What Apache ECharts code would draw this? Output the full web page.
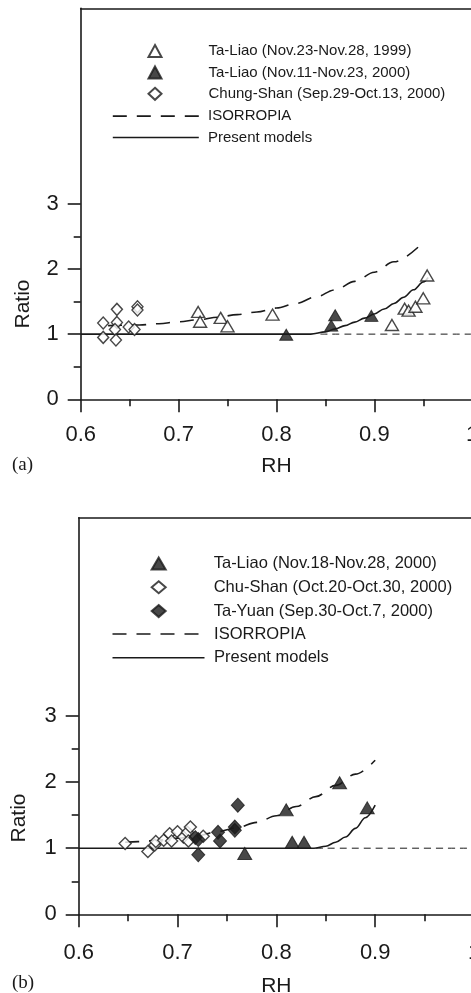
<!DOCTYPE html>
<html>
<head>
<meta charset="utf-8">
<script src="https://cdn.jsdelivr.net/npm/echarts@6/dist/echarts.min.js"></script>
<style>
  html, body { margin: 0; padding: 0; background: #fff; }
  #chart { width: 471px; height: 993px; }
</style>
</head>
<body>
<div id="chart"></div>
<script>
// tick values shared by both panels
const yMajorTicks = [0, 1, 2, 3]
const yMinorTicks = [0.5, 1.5, 2.5]

// panel (a)
const aTaLiao1999 = [[0.720, 1.34], [0.722, 1.19], [0.743, 1.25], [0.750, 1.12], [0.796, 1.30],
  [0.918, 1.14], [0.931, 1.39], [0.935, 1.36], [0.942, 1.42], [0.950, 1.55], [0.954, 1.90]]
const aTaLiao2000 = [[0.810, 0.99], [0.856, 1.13], [0.860, 1.29], [0.897, 1.28]]
const aChungShan = [[0.623, 1.17], [0.623, 0.95], [0.637, 1.38], [0.637, 1.18], [0.635, 1.07],
  [0.636, 0.91], [0.649, 1.11], [0.655, 1.07], [0.658, 1.42], [0.658, 1.37]]
const aIsorropia = [[0.628, 1.13], [0.66, 1.14], [0.68, 1.16], [0.70, 1.19], [0.72, 1.22], [0.74, 1.26],
  [0.76, 1.30], [0.78, 1.34], [0.80, 1.40], [0.82, 1.47], [0.84, 1.57], [0.86, 1.68], [0.88, 1.81],
  [0.90, 1.95], [0.92, 2.11], [0.948, 2.38]]
const aPresent = [[0.6, 1], [0.835, 1], [0.85, 1.035], [0.86, 1.08], [0.87, 1.13], [0.88, 1.185],
  [0.89, 1.245], [0.90, 1.31], [0.91, 1.385], [0.92, 1.47], [0.93, 1.565], [0.94, 1.68], [0.95, 1.80], [0.955, 1.87]]
const aBaseline = [[0.845, 1], [1.0, 1]]

// panel (b)
const bTaLiao2000 = [[0.768, 0.92], [0.810, 1.58], [0.816, 1.09], [0.828, 1.09], [0.864, 1.99], [0.892, 1.61]]
const bChuShan = [[0.647, 1.07], [0.670, 0.95], [0.677, 1.05], [0.678, 1.10], [0.686, 1.12], [0.692, 1.22],
  [0.694, 1.11], [0.700, 1.25], [0.706, 1.17], [0.710, 1.24], [0.711, 1.11], [0.713, 1.32], [0.726, 1.18]]
const bTaYuan = [[0.718, 1.16], [0.721, 1.13], [0.721, 0.90], [0.741, 1.24], [0.743, 1.11],
  [0.758, 1.32], [0.758, 1.27], [0.761, 1.65]]
const bIsorropia = [[0.647, 1.09], [0.66, 1.10], [0.68, 1.12], [0.70, 1.15], [0.72, 1.19], [0.74, 1.25],
  [0.76, 1.31], [0.78, 1.39], [0.80, 1.49], [0.82, 1.63], [0.84, 1.78], [0.86, 1.95], [0.88, 2.12], [0.90, 2.33]]
const bPresent = [[0.6, 1], [0.838, 1], [0.85, 1.03], [0.86, 1.09], [0.87, 1.17], [0.88, 1.30],
  [0.89, 1.46], [0.90, 1.65]]
const bBaseline = [[0.84, 1], [1.0, 1]]

const INK = '#1a1a1a'
const FONT = 'Liberation Sans'
const ISO_DASH = [14, 10]

const openStyle = { color: '#fff', borderColor: INK, borderWidth: 1.4 }
const solidStyle = { color: INK, borderColor: INK, borderWidth: 1 }

const xAxes = (grid, labelMargin, nameGap) => [
  {
    gridIndex: grid, type: 'value', min: 0.6, max: 1.0, interval: 0.1,
    name: 'RH', nameLocation: 'middle', nameGap,
    nameTextStyle: { fontFamily: FONT, fontSize: 21, color: INK },
    axisLine: { onZero: false, lineStyle: { color: INK, width: 1.6 } },
    axisTick: { length: 13, lineStyle: { color: INK, width: 1.6 } },
    minorTick: { show: true, splitNumber: 2, length: 7, lineStyle: { color: INK, width: 1.6 } },
    axisLabel: {
      margin: labelMargin, fontFamily: FONT, fontSize: 22, color: INK,
      formatter: (v) => (v >= 0.999 ? '1' : v.toFixed(1)),
    },
    splitLine: { show: false },
  },
  {
    gridIndex: grid, type: 'value', position: 'top', min: 0.6, max: 1.0,
    axisLine: { onZero: false, lineStyle: { color: INK, width: 1.6 } },
    axisTick: { show: false }, axisLabel: { show: false }, splitLine: { show: false },
  },
]

const yAxes = (grid) => [
  {
    gridIndex: grid, type: 'value', min: 0, max: 6,
    axisLine: { show: true, onZero: false, lineStyle: { color: INK, width: 1.6 } },
    axisTick: { show: true, length: 13, customValues: yMajorTicks, lineStyle: { color: INK, width: 1.6 } },
    axisLabel: { margin: 22, customValues: yMajorTicks, fontFamily: FONT, fontSize: 22, color: INK },
    splitLine: { show: false },
  },
  {
    gridIndex: grid, type: 'value', position: 'left', min: 0, max: 6,
    axisLine: { show: false },
    axisTick: { show: true, length: 7, customValues: yMinorTicks, lineStyle: { color: INK, width: 1.6 } },
    axisLabel: { show: false },
    splitLine: { show: false },
  },
]

const scatter = (name, data, xi, yi, symbol, size, style) => ({
  name, type: 'scatter', data, xAxisIndex: xi, yAxisIndex: yi,
  symbol, symbolSize: size, itemStyle: style, z: 5,
})

const line = (name, data, xi, yi, width, type) => ({
  name, type: 'line', data, xAxisIndex: xi, yAxisIndex: yi,
  symbol: 'none', showSymbol: false, smooth: 0.35, smoothMonotone: 'x',
  itemStyle: { color: INK },
  lineStyle: { color: INK, width, type }, z: 3,
})

const markersA = ['Ta-Liao (Nov.23-Nov.28, 1999)', 'Ta-Liao (Nov.11-Nov.23, 2000)',
  'Chung-Shan (Sep.29-Oct.13, 2000)']
const linesA = ['ISORROPIA', 'Present models']
const markersB = ['Ta-Liao (Nov.18-Nov.28, 2000)', 'Chu-Shan (Oct.20-Oct.30, 2000)',
  'Ta-Yuan (Sep.30-Oct.7, 2000)']
const linesB = ['ISORROPIA ', 'Present models ']

// marker rows: small icon, then a fixed blank so the text lines up with the line rows
const markerLegend = (data, left, top, size, pad, gap, fontSize) => ({
  data, orient: 'vertical', left, top, padding: 0,
  itemWidth: size[0], itemHeight: size[1], itemGap: gap, selectedMode: false,
  formatter: (n) => '{p|}' + n.trim(),
  textStyle: { fontFamily: FONT, fontSize, color: INK, rich: { p: { width: pad, fontSize } } },
})

const lineLegend = (data, left, top, w, gap, fontSize) => ({
  data: data.map((name, i) => ({
    name,
    itemStyle: { opacity: 0 },
    lineStyle: { color: INK, width: 1.6, type: i === 0 ? ISO_DASH : 'solid' },
  })),
  orient: 'vertical', left, top, padding: 0,
  itemWidth: w, itemHeight: 13, itemGap: gap, selectedMode: false,
  formatter: (n) => ' ' + n.trim(),
  textStyle: { fontFamily: FONT, fontSize, color: INK },
})

const chart = echarts.init(document.getElementById('chart'), null, { renderer: 'canvas' })

chart.setOption({
  animation: false,
  backgroundColor: '#fff',
  grid: [
    { left: 80.7, top: 8.3, right: -1.2, bottom: 993 - 399.3, containLabel: false, outerBoundsMode: 'none' },
    { left: 78.7, top: 517.7, right: -3, bottom: 993 - 914.3, containLabel: false, outerBoundsMode: 'none' },
  ],
  xAxis: [...xAxes(0, 25, 56), ...xAxes(1, 28, 61)],
  yAxis: [...yAxes(0), ...yAxes(1)],
  legend: [
    markerLegend(markersA, 147.5, 43.5, [13, 12], 42, 6.4, 15),
    lineLegend(linesA, 112, 108.6, 86, 6.4, 15),
    markerLegend(markersB, 150.7, 555, [14, 12], 43, 6.8, 16.5),
    lineLegend(linesB, 111.7, 625.5, 92, 6.8, 16.5),
  ],
  series: [
    scatter(markersA[0], aTaLiao1999, 0, 0, 'triangle', [13, 11], openStyle),
    scatter(markersA[1], aTaLiao2000, 0, 0, 'triangle', [13, 11], solidStyle),
    scatter(markersA[2], aChungShan, 0, 0, 'diamond', [11, 12], openStyle),
    line(linesA[0], aIsorropia, 0, 0, 1.6, ISO_DASH),
    line(linesA[1], aPresent, 0, 0, 1.6, 'solid'),
    line('baseA', aBaseline, 0, 0, 1, [7, 5]),

    scatter(markersB[0], bTaLiao2000, 2, 2, 'triangle', [14, 12], solidStyle),
    scatter(markersB[1], bChuShan, 2, 2, 'diamond', [12, 12], openStyle),
    scatter(markersB[2], bTaYuan, 2, 2, 'diamond', [13, 14], solidStyle),
    line(linesB[0], bIsorropia, 2, 2, 1.6, ISO_DASH),
    line(linesB[1], bPresent, 2, 2, 1.6, 'solid'),
    line('baseB', bBaseline, 2, 2, 1, [7, 5]),
  ],
  graphic: [
    { type: 'text', x: 23, y: 304, rotation: Math.PI / 2,
      style: { text: 'Ratio', fontFamily: FONT, fontSize: 21, fill: INK, align: 'center', verticalAlign: 'middle' } },
    { type: 'text', x: 19, y: 818, rotation: Math.PI / 2,
      style: { text: 'Ratio', fontFamily: FONT, fontSize: 21, fill: INK, align: 'center', verticalAlign: 'middle' } },
    { type: 'text', x: 12, y: 465,
      style: { text: '(a)', fontFamily: 'Liberation Serif', fontSize: 19, fill: INK, align: 'left', verticalAlign: 'middle' } },
    { type: 'text', x: 12, y: 983,
      style: { text: '(b)', fontFamily: 'Liberation Serif', fontSize: 19, fill: INK, align: 'left', verticalAlign: 'middle' } },
  ],
})
</script>
</body>
</html>
